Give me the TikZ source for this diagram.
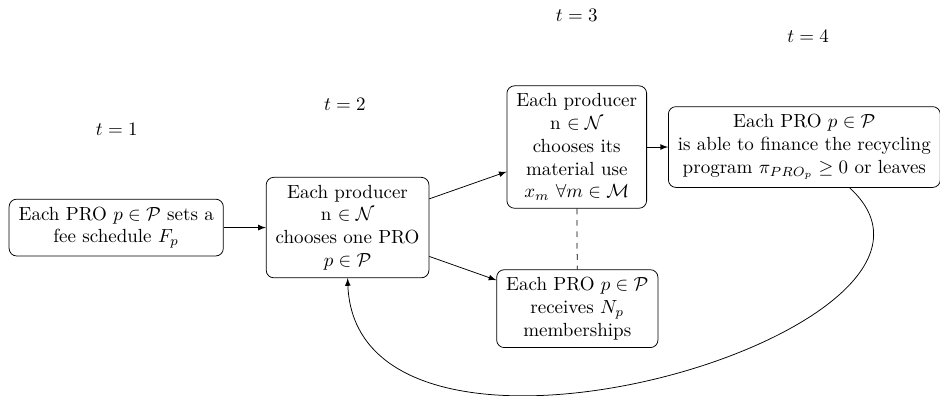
\documentclass[tikz,border=0pt]{standalone}
\usepackage{amsmath}
\usepackage{amsfonts}
\usepackage{amssymb}
\usepackage{tikz}

\begin{document}
\begin{tikzpicture}[line width = 0.4pt, >=latex,
                        stage/.style = {rectangle, draw, rounded corners, align = center, inner xsep = 5pt, inner ysep = 4pt},
                        period/.style = {inner sep = 0pt}]
      \useasboundingbox (0, 0) rectangle (17.39, -7.325);
      % time labels
      \node [period] (t1) at (2.16, -2.40){$t = 1$};
      \node [period] (t2) at (6.38, -1.94){$t = 2$};
      \node [period] (t3) at (10.67, -0.28){$t = 3$};
      \node [period] (t4) at (14.95, -0.68){$t = 4$};
      % stages
      \node [stage] (fee) at (2.15, -4.21){Each PRO $p \in \mathcal{P}$ sets a\\ fee schedule $F_p$};
      \node [stage] (choose) at (6.43, -4.21){Each producer\\ n $\in \mathcal{N}$\\ chooses one PRO\\ $p \in \mathcal{P}$};
      \node [stage] (material) at (10.67, -2.72){Each producer\\ n $\in \mathcal{N}$\\ chooses its\\ material use\\ $x_m$ $\forall m \in \mathcal{M}$};
      \node [stage] (finance) at (14.88, -2.72){Each PRO $p \in \mathcal{P}$\\ is able to finance the recycling\\ program $\pi_{PRO_p} \geq 0$ or leaves};
      \node [stage] (members) at (10.68, -5.71){Each PRO $p \in \mathcal{P}$\\ receives $N_p$\\ memberships};
      \draw [->] (fee) -- (choose);
      \draw [->] (choose) -- (material);
      \draw [->] (choose) -- (members);
      \draw [->] (material) -- (finance);
      \draw [dashed] (material) -- (members);
      \draw [->] (finance.-42) .. controls (18.59, -6.10) and (6.60, -9.62) .. (choose.south);
    \end{tikzpicture}
\end{document}
